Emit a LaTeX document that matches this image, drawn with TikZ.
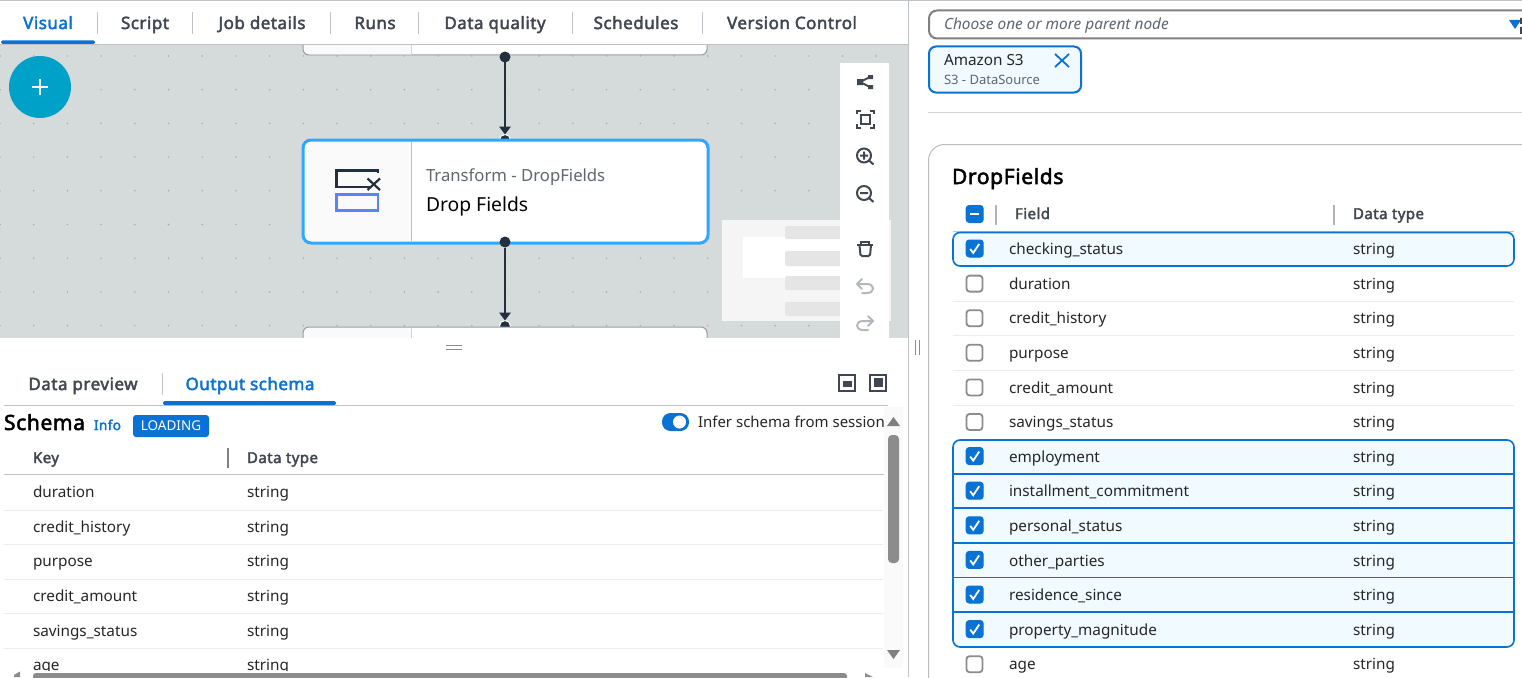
\documentclass[tikz,border=0pt]{standalone}
\usepackage{fontspec}
\usepackage{tikz}
\setmainfont{Noto Sans}[BoldFont={Noto Sans},BoldFeatures={FakeBold=2.5,LetterSpace=3}]
\usetikzlibrary{positioning}
\usetikzlibrary{arrows.meta}
\definecolor{canvasColor}{RGB}{213,218,218}
\definecolor{dotColor}{RGB}{160,168,170}
\definecolor{awsBlue}{RGB}{9,114,211}
\definecolor{rowBlue}{RGB}{240,250,255}
\definecolor{cardBlue}{RGB}{46,167,255}
\definecolor{addColor}{RGB}{0,161,201}
\definecolor{iconBlue}{RGB}{90,130,255}
\definecolor{flowColor}{RGB}{35,47,62}
\definecolor{lineColor}{RGB}{190,195,200}
\definecolor{softLine}{RGB}{234,237,237}
\definecolor{darkText}{RGB}{65,71,80}
\definecolor{greyText}{RGB}{95,102,112}
\definecolor{paleIcon}{RGB}{180,184,188}
\definecolor{miniBar}{RGB}{229,229,229}
\tikzstyle{screen} = [x = 1pt, y = -1pt, every node/.style={inner sep = 0pt, outer sep = 0pt}]
\tikzstyle{tabText} = [font=\fontsize{17}{20}\selectfont\bfseries, text=darkText, anchor=base]
\tikzstyle{tabLine} = [color=lineColor, line width=1pt]
\tikzstyle{rowText} = [font=\fontsize{15.3}{18}\selectfont, text=black!85, anchor=base west]
\tikzstyle{headText} = [font=\fontsize{15}{18}\selectfont\bfseries, text=darkText, anchor=base west]
\tikzstyle{softRule} = [color=softLine, line width=1pt]
\tikzstyle{hardRule} = [color=lineColor, line width=1pt]
\tikzstyle{flowPort} = [circle, fill=flowColor, draw=white, line width=1pt, minimum size=11pt]
\tikzstyle{flowArrow} = [-{Triangle[width=11.5pt,length=8pt]}, color=flowColor, line width=1.8pt]
\tikzstyle{plainCard} = [color=lineColor!80!black, fill=white, rounded corners=6pt, line width=1pt]
\tikzstyle{toolIcon} = [color=darkText, line width=2pt]
\tikzstyle{paleTool} = [color=paleIcon, line width=2pt, line cap=round]
\tikzstyle{checkBox} = [color=awsBlue, fill=awsBlue, rounded corners=3pt, line width=1pt]
\tikzstyle{emptyCheck} = [color=black!45, fill=white, rounded corners=3pt, line width=1.8pt]
\tikzstyle{tickMark} = [color=white, line width=1.8pt]
\newcommand{\rowY}[1]{249 + 34.6 * #1}
% one row of the field table
\newcommand{\fieldRow}[2]{
  \node [rowText] (field#1) at (1009, \rowY{#1} + 5.6) {#2};
  \node [rowText] (type#1) at (1353, \rowY{#1} + 5.6) {string};
}
\newcommand{\emptyBox}[1]{\filldraw [emptyCheck] (966.5, \rowY{#1} - 8) rectangle + (16, 16);}
\newcommand{\tickBox}[1]{
  \filldraw [checkBox] (966.2, \rowY{#1} - 9) rectangle + (17, 17);
  \draw [tickMark] (970.2, \rowY{#1}) -- + (3, 4) -- + (9, -5);
}
\newcommand{\schemaRow}[2]{
  \node [rowText] (key#1) at (33, 492 + 34.6 * #1 + 5.6) {#2};
  \node [rowText] (keyType#1) at (247, 492 + 34.6 * #1 + 5.6) {string};
}
\begin{document}
\begin{tikzpicture}[screen]
  \useasboundingbox (0, 0) rectangle (1522, 677);
  \fill [white] (0, 0) rectangle (1522, 677);

  % canvas with its dots
  \fill [canvasColor] (0, 44) rectangle (908, 338);
  \foreach \column in {0,...,26} {
    \foreach \row in {0,...,8} {
      \fill [dotColor] (33.7 * \column, 56 + 33.7 * \row) circle (.8pt);
    }
  }

  % ports under the cards
  \node [flowPort] (cardIn) at (505, 140) {};
  \node [flowPort] (lowerPort) at (505, 326) {};

  % upper and lower cards, cut by the canvas
  \filldraw [plainCard] (303, 30) rectangle (707, 55);
  \fill [black!2] (304, 44) -- (304, 50) -- (310, 54.5) -- (411, 54.5) -- (411, 44) -- cycle;
  \draw [softLine!90!black] (411, 44) -- (411, 55);
  \filldraw [plainCard] (303, 327) rectangle (707, 360);
  \fill [black!2, rounded corners=6pt] (304, 328) rectangle (411, 360);
  \draw [softLine!90!black] (411, 328) -- (411, 338);
  \fill [white] (0, 338) rectangle (840, 362);
  \fill [white] (0, 0) rectangle (908, 44);
  \draw [hardRule] (0, 1) -- (1522, 1);

  % tabs
  \node [tabText, text=awsBlue] (tabVisual) at (48, 29) {Visual};
  \node [tabText] (tabScript) at (145, 29) {Script};
  \node [tabText] (tabJob) at (262, 29) {Job details};
  \node [tabText] (tabRuns) at (375, 29) {Runs};
  \node [tabText] (tabQuality) at (495, 29) {Data quality};
  \node [tabText] (tabSchedules) at (636, 29) {Schedules};
  \node [tabText] (tabVersion) at (792, 29) {Version Control};
  \foreach \x in {97,192,330,418,572,702} {
    \draw [tabLine] (\x, 12) -- (\x, 34);
  }
  \draw [hardRule] (0, 44.5) -- (908, 44.5);
  \fill [awsBlue, rounded corners=1.5pt] (1, 40.5) rectangle (95, 44);

  % add button
  \node [circle, fill=addColor, minimum size=62pt] (addButton) at (40, 87) {};
  \draw [white, line width=1.6pt] (32, 87) -- (48, 87) (40, 79) -- (40, 95);

  % selected card
  \filldraw [color=cardBlue, fill=white, rounded corners=8pt, line width=3pt] (303, 140) rectangle (708, 243);
  \fill [black!2, rounded corners=6pt] (305, 142) rectangle (411, 241);
  \draw [softLine!80!black] (411.5, 142) -- (411.5, 241);
  \draw [color=flowColor, line width=2.2pt] (370, 187) -- (336.5, 187) -- (336.5, 170.5) -- (378, 170.5) -- (378, 173);
  \draw [color=flowColor, line width=2.2pt] (367.5, 178.5) -- (380, 190) (380, 178.5) -- (367.5, 190);
  \draw [color=iconBlue, line width=2.2pt] (336.5, 194.5) rectangle (378, 210.5);
  \node [rowText, font=\fontsize{16.7}{20}\selectfont, text=greyText] (cardKind) at (426, 181.5) {Transform - DropFields};
  \node [rowText, font=\fontsize{19.3}{24}\selectfont, text=black] (cardName) at (426, 211) {Drop Fields};

  % ports over the cards and connectors
  \node [flowPort, draw=none, minimum size=11pt] (upperPort) at (505, 57) {};
  \node [flowPort, draw=none, minimum size=11pt] (cardOut) at (505, 242) {};
  \draw [flowArrow] (upperPort) -- (cardIn);
  \draw [flowArrow] (cardOut) -- (lowerPort);

  % minimap
  \fill [black!4] (722, 220) rectangle (891, 321);
  \fill [white] (743, 237) rectangle (840, 278);
  \foreach \barY/\barH in {226/13, 251/15, 276/14, 302/14} {
    \fill [miniBar, rounded corners=2pt] (785, \barY) rectangle + (60, \barH);
  }

  % tool bar
  \fill [white] (840, 63) rectangle (889, 338);
  \draw [toolIcon] (860, 82) -- (870, 77) (860, 82) -- (870, 87);
  \fill [darkText] (857, 79) rectangle + (6, 6) (868, 75) rectangle + (5, 4) (868, 85) rectangle + (5, 4);
  \draw [toolIcon] (856.5, 114) |- (861, 110.5) (870, 110.5) -| (873.5, 114) (873.5, 124) |- (870, 127.5) (861, 127.5) -| (856.5, 124);
  \draw [toolIcon] (861, 115) rectangle (870, 123.5);
  \draw [toolIcon] (864, 155.5) circle (7pt);
  \draw [toolIcon] (869, 160.5) -- (873.5, 164.5) (860, 155.5) -- (868, 155.5) (864, 151.5) -- (864, 159.5);
  \draw [toolIcon] (864, 193) circle (7pt);
  \draw [toolIcon] (869, 198) -- (873.5, 202) (860, 193) -- (868, 193);
  \draw [toolIcon] (857, 244.5) -- (873, 244.5) (861, 244) -- (861, 241.5) -- (869, 241.5) -- (869, 244);
  \draw [toolIcon, rounded corners=1.5pt] (859.5, 245) -- (860.5, 256) -- (870, 256) -- (871, 245);
  \draw [paleTool] (862, 279) -- (857, 284) -- (862, 289) (857, 284) -- (867, 284) .. controls (875, 284) and (875, 293) .. (867, 293) -- (862, 293);
  \draw [paleTool] (868, 316) -- (873, 321) -- (868, 326) (873, 321) -- (863, 321) .. controls (855, 321) and (855, 330) .. (863, 330) -- (868, 330);

  % drag handles
  \draw [color=black!45, line width=1pt] (446, 345.5) -- (462, 345.5) (446, 349) -- (462, 349);
  \draw [color=black!45, line width=1pt] (915.5, 340) -- (915.5, 355) (919.5, 340) -- (919.5, 355);
  \draw [hardRule] (908, 0) -- (908, 677);

  % lower panel
  \node [tabText] (tabPreview) at (83, 390) {Data preview};
  \node [tabText, text=awsBlue] (tabSchema) at (250, 390) {Output schema};
  \draw [tabLine] (162, 373) -- (162, 395);
  \draw [hardRule] (4, 405.5) -- (888, 405.5);
  \fill [awsBlue, rounded corners=1.5pt] (163, 401) rectangle (336, 405);
  \draw [toolIcon] (839, 375) rectangle (855, 391);
  \fill [darkText] (843, 381) rectangle (852, 387);
  \draw [toolIcon] (870, 375) rectangle (886, 391);
  \fill [darkText] (873.5, 378) rectangle (883, 387);
  \node [rowText, font=\fontsize{21}{26}\selectfont\bfseries, text=black] (schemaTitle) at (4, 430) {Schema};
  \node [rowText, font=\fontsize{13.5}{17}\selectfont\bfseries, text=awsBlue] (schemaInfo) at (94, 430) {Info};
  \node [fill=awsBlue, rounded corners=3pt, minimum width=76pt, minimum height=22pt, text=white, font=\fontsize{13.5}{16}\selectfont] (schemaBadge) at (171, 426) {LOADING};
  \fill [awsBlue, rounded corners=8.5pt] (662, 413) rectangle (689, 431);
  \fill [white] (679.5, 422) circle (6.5pt);
  \node [rowText, font=\fontsize{15}{18}\selectfont] (inferText) at (698, 427) {Infer schema from session};
  \node [headText] (keyHead) at (33, 463) {Key};
  \node [headText] (keyTypeHead) at (247, 463) {Data type};
  \draw [color=black!50, line width=1.5pt] (228, 448) -- (228, 468);
  \draw [hardRule] (4, 474.5) -- (884, 474.5);
  \foreach \y in {510,544.5,579,613,648} {
    \draw [softRule] (4, \y) -- (883, \y);
  }
  \schemaRow{0}{duration}
  \schemaRow{1}{credit\_history}
  \schemaRow{2}{purpose}
  \schemaRow{3}{credit\_amount}
  \schemaRow{4}{savings\_status}
  \schemaRow{5}{age}
  \fill [white] (0, 671) rectangle (900, 677);

  % scroll bars
  \fill [black!2] (884, 407) rectangle (903, 668);
  \fill [black!50] (887, 426) -- (893.5, 417) -- (900, 426) -- cycle;
  \fill [black!50] (887, 650) -- (893.5, 659) -- (900, 650) -- cycle;
  \fill [black!45, rounded corners=4pt] (888, 435) rectangle (899, 563);
  \fill [black!45, rounded corners=3pt] (33, 673) rectangle (847, 680);
  \fill [black!45] (14, 675) -- (20, 671.5) -- (20, 677) -- (14, 677) -- cycle;
  \fill [black!45] (865, 673) -- (873, 677) -- (865, 677) -- cycle;

  % right panel head
  \draw [color=black!50, line width=2pt, rounded corners=8pt] (929, 10.5) rectangle (1545, 38.5);
  \node [rowText, font=\fontsize{15.4}{18}\selectfont\itshape, text=greyText] (parentHint) at (944, 29.5) {Choose one or more parent node};
  \fill [awsBlue] (1509, 20) -- (1521, 20) -- (1515, 29) -- cycle;
  \fill [darkText] (1520, 18) rectangle (1522, 24) (1520, 27) rectangle (1522, 34);
  \filldraw [color=awsBlue, fill=rowBlue, rounded corners=7pt, line width=2pt] (929, 46.5) rectangle (1081, 92.5);
  \node [rowText] (parentName) at (944, 65) {Amazon S3};
  \node [rowText, font=\fontsize{13}{16}\selectfont, text=greyText] (parentKind) at (944, 84) {S3 - DataSource};
  \draw [color=awsBlue, line width=1.8pt] (1055, 54) -- (1069, 67) (1069, 54) -- (1055, 67);
  \draw [softLine!90!black, line width=1pt] (928, 112.5) -- (1522, 112.5);

  % field table
  \draw [softLine!80!black, line width=1pt, rounded corners=16pt] (1540, 144.5) -- (928.5, 144.5) -- (928.5, 690);
  \node [rowText, font=\fontsize{21}{26}\selectfont\bfseries, text=black] (tableTitle) at (952, 184) {DropFields};
  \filldraw [checkBox] (966.2, 205.5) rectangle + (17, 17);
  \draw [tickMark, line width=2pt] (970.2, 214) -- (979.2, 214);
  \draw [color=black!30, line width=1.5pt] (996, 205) -- (996, 225);
  \draw [color=black!30, line width=1.5pt] (1334, 205) -- (1334, 225);
  \node [headText] (fieldHead) at (1015, 219) {Field};
  \node [headText] (typeHead) at (1353, 219) {Data type};
  \draw [hardRule] (953, 231.5) -- (1514, 231.5);

  \filldraw [color=awsBlue, fill=rowBlue, rounded corners=7pt, line width=1.6pt] (953, 232.5) rectangle (1514, 266);
  \filldraw [color=awsBlue, fill=rowBlue, rounded corners=7pt, line width=1.6pt] (953, 440) rectangle (1514, 647);
  \foreach \y in {474,508,543,577.5,612} {
    \draw [color=awsBlue, line width=1.6pt] (953, \y) -- (1514, \y);
  }
  \foreach \y in {301,335.5,370,405} {
    \draw [softRule] (953, \y) -- (1514, \y);
  }
  \foreach \y in {1,2,3,4,5,12} {
    \emptyBox{\y}
  }
  \foreach \y in {0,6,7,8,9,10,11} {
    \tickBox{\y}
  }
  \fieldRow{0}{checking\_status}
  \fieldRow{1}{duration}
  \fieldRow{2}{credit\_history}
  \fieldRow{3}{purpose}
  \fieldRow{4}{credit\_amount}
  \fieldRow{5}{savings\_status}
  \fieldRow{6}{employment}
  \fieldRow{7}{installment\_commitment}
  \fieldRow{8}{personal\_status}
  \fieldRow{9}{other\_parties}
  \fieldRow{10}{residence\_since}
  \fieldRow{11}{property\_magnitude}
  \fieldRow{12}{age}
\end{tikzpicture}
\end{document}
